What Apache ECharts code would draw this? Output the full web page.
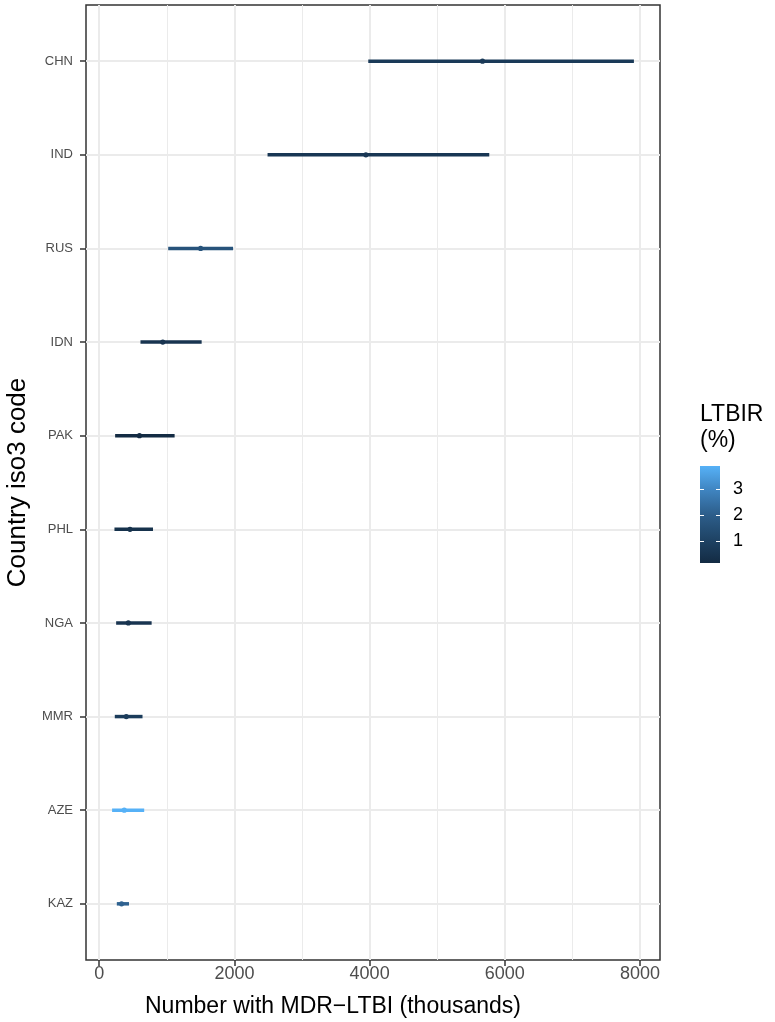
<!DOCTYPE html>
<html>
<head>
<meta charset="utf-8">
<script src="https://cdn.jsdelivr.net/npm/echarts@6/dist/echarts.min.js"></script>
<style>
  html, body { margin: 0; padding: 0; background: #ffffff; }
  #chart { width: 775px; height: 1022px; }
</style>
</head>
<body>
<div id="chart"></div>
<script>
// Countries, top to bottom
const countries = ['CHN', 'IND', 'RUS', 'IDN', 'PAK', 'PHL', 'NGA', 'MMR', 'AZE', 'KAZ'];
// Number with MDR-LTBI (thousands): lower bound, median, upper bound
const lowerK  = [3980, 2490, 1020, 610, 235, 225, 250, 230, 190, 260];
const medianK = [5670, 3945, 1500, 940, 595, 455, 430, 400, 370, 330];
const upperK  = [7910, 5770, 1980, 1515, 1115, 795, 775, 640, 665, 440];
// LTBIR (%) per country, drives the colour
const ltbirPct = [0.7, 0.6, 1.6, 0.5, 0.15, 0.4, 0.5, 0.8, 3.87, 2.1];

const xTicks = [0, 2000, 4000, 6000, 8000];
const xMinorTicks = [1000, 3000, 5000, 7000];
const legendTicks = [1, 2, 3];
const palette = ['#132B43', '#1F4466', '#2D5E8B', '#3F84C0', '#56B1F7'];

const FONT = '"Liberation Sans", Arial, Helvetica, sans-serif';

// axis ranges with a 5% pad on x and 0.6 units on the discrete y axis
const xLo = Math.min(...lowerK), xHi = Math.max(...upperK);
const xPad = 0.05 * (xHi - xLo);
const xMin = xLo - xPad, xMax = xHi + xPad;
const catIdx = countries.map((_, i) => i);

const ltMin = Math.min(...ltbirPct), ltMax = Math.max(...ltbirPct);

const rows = countries.map((c, i) => [lowerK[i], medianK[i], upperK[i], i, ltbirPct[i]]);

const chart = echarts.init(document.getElementById('chart'), null, { renderer: 'canvas' });

// colour bar legend
const bar = { x: 700, y: 466, w: 20, h: 97 };
const valToBarY = v => bar.y + bar.h - (v - ltMin) / (ltMax - ltMin) * bar.h;
const legendGraphics = [
  {
    type: 'text', left: 700, top: 402,
    style: { text: 'LTBIR\n(%)', font: '23px ' + FONT, fill: '#000', lineHeight: 26 }
  },
  {
    type: 'rect', shape: { x: bar.x, y: bar.y, width: bar.w, height: bar.h },
    style: {
      fill: new echarts.graphic.LinearGradient(0, 1, 0, 0,
        palette.map((c, i) => ({ offset: i / (palette.length - 1), color: c })))
    }
  }
];
legendTicks.forEach(v => {
  const y = Math.round(valToBarY(v)) + 0.5;
  legendGraphics.push(
    { type: 'line', shape: { x1: bar.x, y1: y, x2: bar.x + 4, y2: y }, style: { stroke: '#ffffff', lineWidth: 1 } },
    { type: 'line', shape: { x1: bar.x + bar.w - 4, y1: y, x2: bar.x + bar.w, y2: y }, style: { stroke: '#ffffff', lineWidth: 1 } },
    { type: 'text', x: 733, y: y, style: { text: String(v), font: '18px ' + FONT, fill: '#000', verticalAlign: 'middle', align: 'left' } }
  );
});

const option = {
  backgroundColor: '#ffffff',
  animation: false,
  grid: {
    left: 86, right: 115, top: 5, bottom: 62,
    show: true, borderColor: '#333333', borderWidth: 1.5, backgroundColor: 'transparent',
    outerBoundsMode: 'none'
  },
  xAxis: [
    {
      type: 'value', min: xMin, max: xMax,
      name: 'Number with MDR\u2212LTBI (thousands)', nameLocation: 'middle', nameGap: 35,
      nameTextStyle: { fontSize: 23, color: '#000000', fontFamily: FONT, padding: [0, 80, 0, 0] },
      axisLine: { show: false, onZero: false },
      axisTick: { show: true, customValues: xTicks, length: 6, lineStyle: { color: '#333333', width: 1.5 } },
      axisLabel: { customValues: xTicks, fontSize: 18, color: '#4D4D4D', fontFamily: FONT, margin: 5,
        formatter: v => String(v) },
      splitLine: { show: true, lineStyle: { color: '#EBEBEB', width: 2 } }
    },
    {
      type: 'value', min: xMin, max: xMax, position: 'bottom',
      axisLine: { show: false, onZero: false },
      axisTick: { show: false, customValues: xMinorTicks },
      axisLabel: { show: false, customValues: xMinorTicks },
      splitLine: { show: true, lineStyle: { color: '#EBEBEB', width: 1 } }
    }
  ],
  yAxis: {
    type: 'value', min: -0.6, max: countries.length - 1 + 0.6, inverse: true,
    name: 'Country iso3 code', nameLocation: 'middle', nameGap: 54,
    nameTextStyle: { fontSize: 26, color: '#000000', fontFamily: FONT },
    axisLine: { show: false, onZero: false },
    axisTick: { show: true, customValues: catIdx, length: 6, lineStyle: { color: '#333333', width: 1.5 } },
    axisLabel: {
      customValues: catIdx, fontSize: 13, color: '#4D4D4D', fontFamily: FONT, margin: 13,
      formatter: v => countries[Math.round(v)]
    },
    splitLine: { show: true, lineStyle: { color: '#EBEBEB', width: 2 } }
  },
  visualMap: {
    show: false, type: 'continuous', dimension: 4, seriesIndex: 0,
    min: ltMin, max: ltMax, inRange: { color: palette }
  },
  series: [{
    type: 'custom',
    xAxisIndex: 0,
    data: rows,
    encode: { x: [0, 1, 2], y: 3 },
    renderItem: (params, api) => {
      const y = api.value(3);
      const p0 = api.coord([api.value(0), y]);
      const p1 = api.coord([api.value(1), y]);
      const p2 = api.coord([api.value(2), y]);
      const color = api.visual('color');
      return {
        type: 'group',
        children: [
          { type: 'line', shape: { x1: p0[0], y1: p0[1], x2: p2[0], y2: p2[1] },
            style: { stroke: color, lineWidth: 3.5, lineCap: 'butt' } },
          { type: 'circle', shape: { cx: p1[0], cy: p1[1], r: 2.6 }, style: { fill: color } }
        ]
      };
    }
  }],
  graphic: legendGraphics
};

chart.setOption(option);
</script>
</body>
</html>
